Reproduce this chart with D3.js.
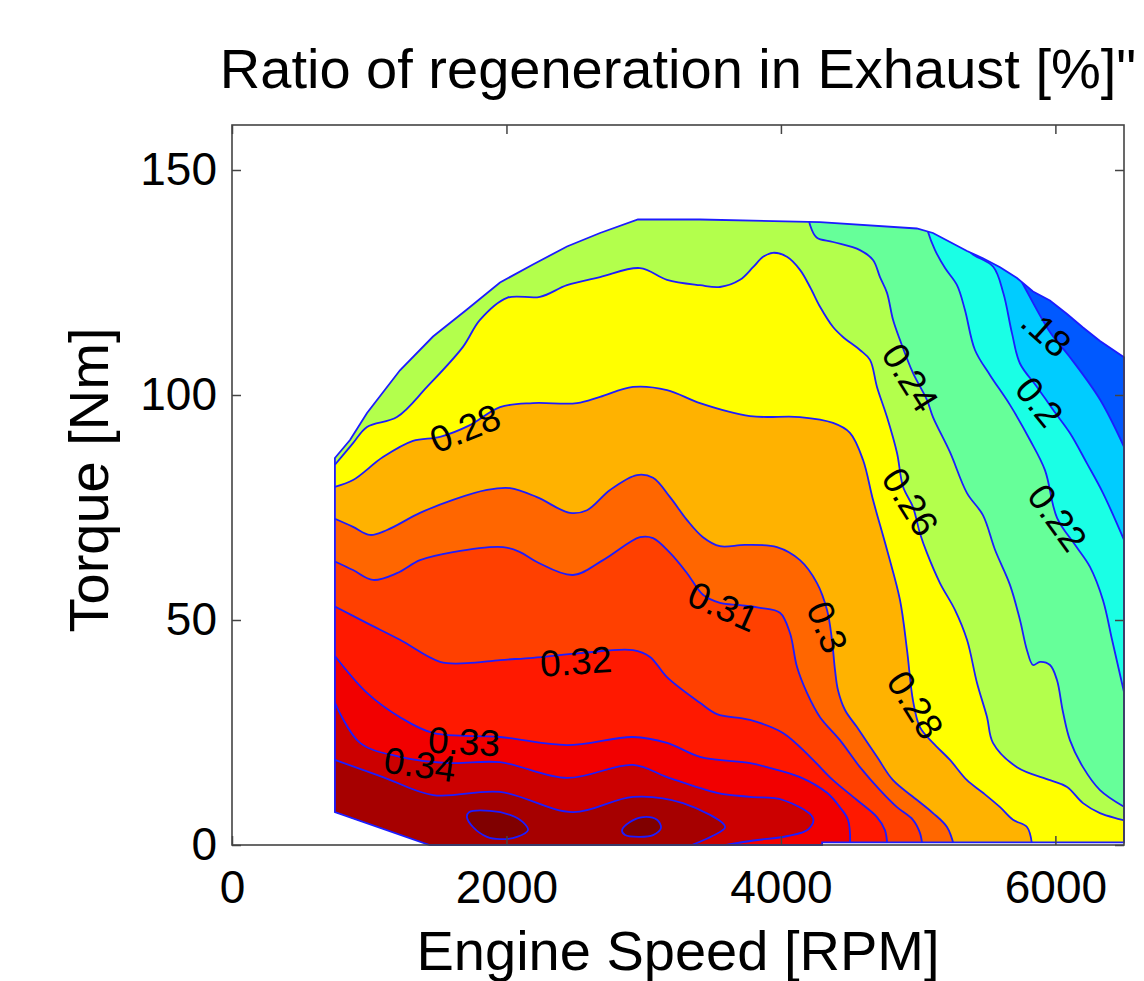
<!DOCTYPE html>
<html>
<head>
<meta charset="utf-8">
<script src="https://cdn.jsdelivr.net/npm/d3@7"></script>
<style>
  body { margin: 0; background: #fff; }
  text { font-family: "Liberation Sans", Arial, Helvetica, sans-serif; fill: #000; }
</style>
</head>
<body>
<div id="chart-area"></div>
<script>
/*
*    Ratio of regeneration in Exhaust - filled contour map
*/

const MARGIN = {LEFT: 232, RIGHT: 20, TOP: 125, BOTTOM: 136}
const WIDTH = 1144 - MARGIN.LEFT - MARGIN.RIGHT
const HEIGHT = 981 - MARGIN.TOP - MARGIN.BOTTOM

// contour levels (value of the band above each line)
const levels = [0.18, 0.20, 0.22, 0.24, 0.26, 0.28, 0.30, 0.31, 0.32, 0.33, 0.34, 0.35]
const lowestValue = 0.15
const peakLevel = 0.36

// operating area: full load curve [rpm, Nm]
const maxTorque = [[750,86],[860,90],[984,96],[1224,105.5],[1465,113],[1712,119],[1953,125],[2193,129],
  [2441,133],[2682,136],[2958,139],[3410,139],[4285,138.4],[4990,137],[5108,136],[5232,134],[5356,132],
  [5472,130.4],[5597,128.4],[5720,126],[5837,123],[5960,121],[6085,118],[6201,115],[6325,112],[6500,108.4]]
const minTorque = [[6500,0.6],[4300,0.6],[4300,0],[1440,0],[750,7.3]]

// iso lines [rpm, Nm]
const iso18 = [[5720,127],[5757,125],[5960,114],[6106,108.4],[6325,99],[6500,88.5]]
const iso20 = [[5370,134],[5378,131.8],[5547,128.5],[5621,122.6],[5684,113.7],[5742,107],[5866,101.8],
  [5983,96.7],[6107,91.5],[6230,84.8],[6347,78.2],[6500,67.8]]
const iso22 = [[5060,138],[5072,136.2],[5123,132.2],[5196,128.2],[5283,124.4],[5341,118.9],[5414,110],
  [5524,104.4],[5669,97.8],[5815,90],[5924,83.3],[6012,72.7],[6143,66.7],[6252,61.8],[6347,54.4],
  [6413,45.6],[6500,34]]
const iso24 = [[4200,140],[4212,137.8],[4260,135],[4380,134],[4576,132.2],[4671,130],[4722,126.2],
  [4773,122.7],[4817,116.7],[4868,112.2],[4962,104.9],[5064,98.9],[5108,95.1],[5232,87.3],[5356,78.2],
  [5472,73.3],[5560,65.6],[5669,57.8],[5742,50],[5793,43.3],[5837,40],[5888,40.7],[5961,40],[6011,36.7],
  [6055,29.6],[6106,23.3],[6201,17.3],[6325,12.2],[6500,8.5]]
const iso26 = [[750,84.5],[882,89.3],[984,92.9],[1202,95.1],[1421,101.8],[1683,110.7],[1807,116.7],
  [2004,121.6],[2244,121.8],[2441,124.4],[2682,126.2],[2973,128.2],[3170,125.6],[3410,124.4],[3556,124],
  [3702,125.6],[3797,128.4],[3870,130.7],[3942,131.6],[4044,130.7],[4139,127.8],[4212,124],[4285,119.6],
  [4380,115.1],[4452,112.9],[4576,110],[4649,107.8],[4700,101.8],[4773,95.1],[4846,87.1],[4890,79.6],
  [4962,75.1],[5013,69.3],[5064,64.9],[5159,58.2],[5269,52.2],[5356,45.6],[5429,36],[5502,28.4],
  [5545,22.7],[5720,17.3],[5961,14.4],[6085,12.9],[6201,9.3],[6325,7.1],[6500,5.5]]
const iso28 = [[750,79.6],[882,81.1],[1100,86.2],[1319,89.8],[1516,90.7],[1734,93.3],[1953,97.3],
  [2193,98.2],[2514,98.2],[2682,99.6],[2922,101.8],[3170,101.1],[3410,98.2],[3775,95.3],[4139,95.1],
  [4380,93.8],[4503,91.6],[4598,85.6],[4671,76.7],[4773,65.6],[4868,54.4],[4919,43.3],[4962,32.2],
  [5013,26.2],[5108,22.7],[5232,18.9],[5356,14.4],[5472,11.6],[5597,8.4],[5691,5.6],[5793,4],[5830,0]]
const iso30 = [[750,72.5],[882,70.7],[1006,68.9],[1129,70],[1370,73.8],[1610,76.7],[1858,78.9],
  [2026,79.3],[2222,77.3],[2463,73.8],[2587,74.4],[2755,78.9],[2951,82.2],[3068,81.6],[3192,77.3],
  [3316,72.2],[3432,68.4],[3556,66.4],[3738,66.7],[3971,66.2],[4139,63.3],[4263,58.2],[4336,52.2],
  [4372,45.6],[4394,38.9],[4416,34.4],[4467,30],[4554,26.2],[4700,19.6],[4817,14.4],[4992,10],
  [5108,7.1],[5210,4],[5260,0]]
const iso31 = [[750,63],[882,61.1],[1027,58.9],[1202,60.4],[1370,63.3],[1610,65.1],[1975,66.2],
  [2099,65.1],[2222,62.9],[2485,60],[2704,63.3],[2973,68.4],[3068,68.2],[3192,64.9],[3316,60.4],
  [3432,55.6],[3556,53.8],[3702,53.3],[3848,52.7],[3993,51.6],[4066,47.1],[4117,39.6],[4190,33.8],
  [4285,28.4],[4430,23.3],[4576,17.3],[4722,12.2],[4846,8.4],[4962,5.6],[5013,2.7],[5030,0]]
const iso32 = [[750,53],[984,49.3],[1224,45.6],[1516,40.7],[1712,40.4],[1953,41.1],[2193,41.6],
  [2558,42.7],[2922,43.3],[3046,41.8],[3170,37.3],[3410,31.6],[3534,29.1],[3775,27.8],[4015,24.9],
  [4212,19.6],[4380,14.4],[4554,10],[4700,6.2],[4758,3.3],[4775,0]]
const iso33 = [[750,42],[984,33.8],[1224,28.4],[1465,24.9],[1953,24],[2441,22.2],[2922,24],[3170,22.7],
  [3410,19.6],[3775,18.2],[3898,17.3],[4139,15.1],[4336,11.6],[4430,8.4],[4489,5.6],[4505,0]]
const iso34 = [[750,31.6],[933,22.7],[1224,19.6],[1589,18.2],[1953,18.4],[2441,14.9],[2922,17.8],
  [3170,15.1],[3534,11.6],[3775,10.7],[4015,10],[4234,6],[4200,3.5],[4050,2],[3800,1],[3600,0]]
const iso35 = [[750,18.9],[1100,15.1],[1465,11.1],[1953,11.8],[2485,7.3],[2922,10.7],[3286,9.3],
  [3593,4],[3500,2],[3350,0]]

// closed peaks
const peakA = [[1727,7.3],[1880,7.6],[2026,6.7],[2120,5.1],[2157,3.3],[2077,1.8],[1953,1.3],[1858,1.8],
  [1756,4],[1712,6.2]]
const peakB = [[2842,3.3],[2900,5.1],[2995,6.2],[3097,5.6],[3126,3.8],[3068,2.2],[2973,1.8],[2864,2.2]]

// inline labels
const labelText = ["0.28", "0.24", "0.26", "0.28", "0.3", "0.31", "0.32", "0.33", "0.34", ".18", "0.2", "0.22"]
const labelRpm = [1700, 4940, 4940, 4977, 4336, 3578, 2507, 1691, 1370, 5932, 5881, 6012]
const labelTorque = [92.5, 103.8, 76.2, 31.1, 48.4, 52.9, 40.7, 22.9, 17.8, 113.8, 98.4, 72.7]
const labelAngle = [-22, 58, 58, 58, 68, 24, -4, 3, 8, 42, 51, 54]

const xTicks = [0, 2000, 4000, 6000]
const yTicks = [0, 50, 100, 150]

const isoLines = [iso18, iso20, iso22, iso24, iso26, iso28, iso30, iso31, iso32, iso33, iso34, iso35]

const svg = d3.select("#chart-area").append("svg")
  .attr("width", WIDTH + MARGIN.LEFT + MARGIN.RIGHT)
  .attr("height", HEIGHT + MARGIN.TOP + MARGIN.BOTTOM)

const g = svg.append("g")
  .attr("transform", `translate(${MARGIN.LEFT}, ${MARGIN.TOP})`)

// Scales
const x = d3.scaleLinear()
  .domain([0, 6500])
  .range([0, WIDTH])

const y = d3.scaleLinear()
  .domain([0, 160])
  .range([HEIGHT, 0])

// jet colormap
const tScale = d3.scaleLinear().domain([0.0933, 0.36]).range([0, 1]).clamp(true)
function jet(v) {
  const t = tScale(v)
  const c = k => Math.round(255 * Math.max(0, Math.min(1, k)))
  return d3.rgb(c(1.5 - Math.abs(4 * t - 3)), c(1.5 - Math.abs(4 * t - 2)), c(1.5 - Math.abs(4 * t - 1)))
}

const line = d3.line()
  .x(d => x(d[0]))
  .y(d => y(d[1]))
  .curve(d3.curveCatmullRom.alpha(0.5))

const closedLine = d3.line()
  .x(d => x(d[0]))
  .y(d => y(d[1]))
  .curve(d3.curveCatmullRomClosed.alpha(0.5))

const flatLine = d3.line()
  .x(d => x(d[0]))
  .y(d => y(d[1]))

// region with values above the level: line + way round the outside
function bandPath(pts) {
  const s = pts[0], e = pts[pts.length - 1]
  const tail = []
  if (e[0] >= 6499) tail.push([7000, e[1]], [7000, -20])
  else tail.push([e[0], -20])
  tail.push([-500, -20])
  if (s[0] <= 751) tail.push([-500, s[1]])
  else tail.push([-500, 200], [s[0], 200])
  return line(pts) + tail.map(p => `L${x(p[0])},${y(p[1])}`).join("") + "Z"
}

const domainPts = maxTorque.concat(minTorque)

svg.append("defs").append("clipPath")
  .attr("id", "area-clip")
  .append("path")
  .attr("d", flatLine(domainPts) + "Z")

const map = g.append("g").attr("clip-path", "url(#area-clip)")

map.append("path")
  .attr("d", flatLine(domainPts) + "Z")
  .attr("fill", jet(lowestValue))

isoLines.forEach((pts, i) => {
  map.append("path")
    .attr("d", bandPath(pts))
    .attr("fill", jet(levels[i]))
})

const peaks = [peakA, peakB]
peaks.forEach(pts => {
  map.append("path")
    .attr("d", closedLine(pts))
    .attr("fill", jet(peakLevel))
})

// contour lines
isoLines.forEach(pts => {
  map.append("path")
    .attr("d", line(pts))
    .attr("fill", "none")
    .attr("stroke", "#1c1cff")
    .attr("stroke-width", 1.8)
})
peaks.forEach(pts => {
  map.append("path")
    .attr("d", closedLine(pts))
    .attr("fill", "none")
    .attr("stroke", "#1c1cff")
    .attr("stroke-width", 1.8)
})

// outline of the map
g.append("path")
  .attr("d", flatLine(domainPts) + "Z")
  .attr("fill", "none")
  .attr("stroke", "#1c1cff")
  .attr("stroke-width", 1.8)

// labels on the lines
labelText.forEach((t, i) => {
  g.append("text")
    .attr("transform", `translate(${x(labelRpm[i])}, ${y(labelTorque[i])}) rotate(${labelAngle[i]})`)
    .attr("text-anchor", "middle")
    .attr("dominant-baseline", "central")
    .attr("font-size", "37px")
    .text(t)
})

// Axes (ticks inside, MATLAB style)
const xAxisCall = d3.axisBottom(x)
  .tickValues(xTicks)
  .tickFormat(d3.format("d"))
  .tickSize(-9)
  .tickPadding(25)
const xAxis = g.append("g")
  .attr("class", "x axis")
  .attr("transform", `translate(0, ${HEIGHT})`)
  .call(xAxisCall)

const yAxisCall = d3.axisLeft(y)
  .tickValues(yTicks)
  .tickFormat(d3.format("d"))
  .tickSize(-9)
  .tickPadding(15)
const yAxis = g.append("g")
  .attr("class", "y axis")
  .call(yAxisCall)

const topAxis = g.append("g")
  .call(d3.axisTop(x).tickValues(xTicks).tickSize(-9).tickFormat(""))
const rightAxis = g.append("g")
  .attr("transform", `translate(${WIDTH}, 0)`)
  .call(d3.axisRight(y).tickValues(yTicks).tickSize(-9).tickFormat(""))

g.selectAll(".domain").remove()
g.selectAll(".tick line").attr("stroke", "#444").attr("stroke-width", 1.5)
xAxis.selectAll("text").attr("font-size", "46px").attr("fill", "#000")
yAxis.selectAll("text").attr("font-size", "46px").attr("fill", "#000")

g.append("rect")
  .attr("width", WIDTH)
  .attr("height", HEIGHT)
  .attr("fill", "none")
  .attr("stroke", "#444")
  .attr("stroke-width", 1.6)

// Labels
g.append("text")
  .attr("x", WIDTH / 2)
  .attr("y", -37)
  .attr("font-size", "56px")
  .attr("text-anchor", "middle")
  .text("Ratio of regeneration in Exhaust [%]\"")

g.append("text")
  .attr("x", WIDTH / 2)
  .attr("y", HEIGHT + 125)
  .attr("font-size", "56px")
  .attr("text-anchor", "middle")
  .text("Engine Speed [RPM]")

g.append("text")
  .attr("transform", "rotate(-90)")
  .attr("x", -(HEIGHT / 2 - 5))
  .attr("y", -124)
  .attr("font-size", "56px")
  .attr("text-anchor", "middle")
  .text("Torque [Nm]")
</script>
</body>
</html>
